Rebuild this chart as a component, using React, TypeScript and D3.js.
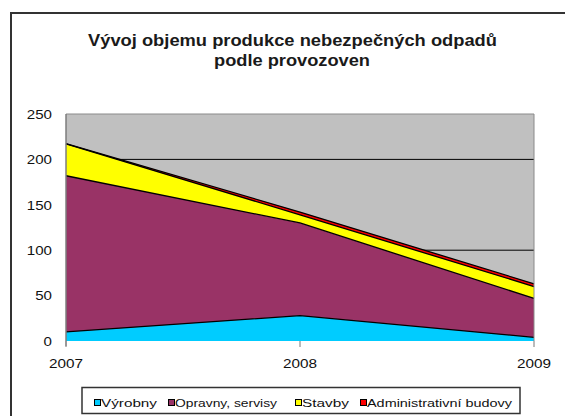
import React from "react";
import * as d3 from "d3";

const years = ["2007", "2008", "2009"];
const seriesNames = ["Výrobny", "Opravny, servisy", "Stavby", "Administrativní budovy"];
const vyrobny = [10, 28, 4];
const opravny = [172, 102, 43];
const stavby = [35, 9, 13];
const administrativni = [0.5, 3, 3];
const yTicks = [0, 50, 100, 150, 200, 250];
const gridTicks = [100, 200];
const colors = ["#00CCFF", "#993366", "#FFFF00", "#FF0000"];
const titleLines = ["Vývoj objemu produkce nebezpečných odpadů", "podle provozoven"];

const W = 565, H = 416;
const plot = { left: 66, right: 534, top: 114, bottom: 341 };
const font = "'Liberation Sans', Arial, sans-serif";

export default function App() {
  const x = d3.scalePoint<string>().domain(years).range([plot.left, plot.right]);
  const y = d3.scaleLinear().domain([0, 250]).range([plot.bottom, plot.top]);
  const rows = years.map((yr, i) => ({
    year: yr,
    s0: vyrobny[i],
    s1: opravny[i],
    s2: stavby[i],
    s3: administrativni[i],
  }));
  const stack = d3.stack<any>().keys(["s0", "s1", "s2", "s3"]);
  const layers = stack(rows);
  const area = d3
    .area<any>()
    .x((d) => x(d.data.year) as number)
    .y0((d) => y(d[0]))
    .y1((d) => y(d[1]));
  const line = d3
    .line<any>()
    .x((d) => x(d.data.year) as number)
    .y((d) => y(d[1]));

  const legendItems = [
    { sq: 94.5, tx: 101, len: 56 },
    { sq: 168.5, tx: 175, len: 102 },
    { sq: 295.5, tx: 302, len: 47 },
    { sq: 360.5, tx: 367, len: 145 },
  ];

  return (
    <svg
      width={W}
      height={H}
      style={{ position: "absolute", left: 0, top: 0, background: "#fff" }}
      fontFamily={font}
    >
      {/* outer frame */}
      <path d={`M11,${H + 5} V13 H${W + 5}`} fill="none" stroke="#333" strokeWidth={2} />
      {/* title */}
      <text x={292.5} y={46} textAnchor="middle" fontSize={16} fontWeight="bold" fill="#1a1a1a"
        textLength={409} lengthAdjust="spacingAndGlyphs">
        {titleLines[0]}
      </text>
      <text x={292} y={66} textAnchor="middle" fontSize={16} fontWeight="bold" fill="#1a1a1a"
        textLength={156} lengthAdjust="spacingAndGlyphs">
        {titleLines[1]}
      </text>
      {/* plot background */}
      <rect x={plot.left} y={plot.top} width={plot.right - plot.left} height={plot.bottom - plot.top} fill="#C0C0C0" />
      {/* gridlines */}
      {gridTicks.map((t) => (
        <line key={t} x1={plot.left} x2={plot.right} y1={y(t)} y2={y(t)} stroke="#000" strokeWidth={1} />
      ))}
      {/* areas */}
      {layers.map((l, i) => (
        <path key={"a" + i} d={area(l) as string} fill={colors[i]} />
      ))}
      {layers.map((l, i) => (
        <path key={"l" + i} d={line(l) as string} fill="none" stroke="#000" strokeWidth={1.3} />
      ))}
      {/* plot border */}
      <path
        d={`M${plot.left},${plot.bottom} V${plot.top} H${plot.right} V${plot.bottom}`}
        fill="none"
        stroke="#8a8a8a"
        strokeWidth={1}
      />
      <line x1={plot.left} x2={plot.left} y1={plot.top} y2={plot.bottom + 5} stroke="#777" strokeWidth={1} />
      {/* x ticks */}
      {years.map((yr) => (
        <line key={yr} x1={x(yr)} x2={x(yr)} y1={plot.bottom} y2={plot.bottom + 6} stroke="#777" strokeWidth={1} />
      ))}
      {/* y labels */}
      {yTicks.map((t) => (
        <text key={t} x={52} y={y(t) + 4.8} textAnchor="end" fontSize={13} fill="#111"
          textLength={String(t).length * 8.4} lengthAdjust="spacingAndGlyphs">
          {t}
        </text>
      ))}
      {/* x labels */}
      {years.map((yr) => (
        <text key={yr} x={x(yr)} y={367.5} textAnchor="middle" fontSize={12.5} fill="#111"
          textLength={34} lengthAdjust="spacingAndGlyphs">
          {yr}
        </text>
      ))}
      {/* legend */}
      <rect x={82} y={387.5} width={438} height={26} fill="#fff" stroke="#333" strokeWidth={1.5} />
      {seriesNames.map((n, i) => (
        <g key={n}>
          <rect x={legendItems[i].sq} y={399.5} width={6} height={6} fill={colors[i]} stroke="#000" strokeWidth={1} />
          <text x={legendItems[i].tx} y={406.5} fontSize={10.5} fill="#111"
            textLength={legendItems[i].len} lengthAdjust="spacingAndGlyphs">
            {n}
          </text>
        </g>
      ))}
    </svg>
  );
}
